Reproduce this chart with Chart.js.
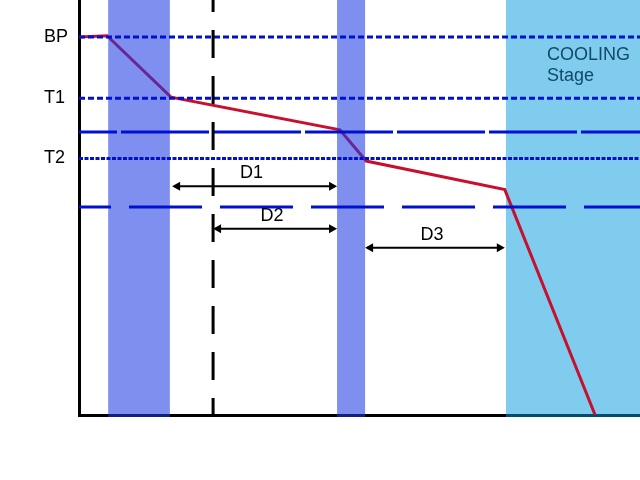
<!DOCTYPE html>
<html>
<head>
<meta charset="utf-8">
<script src="https://cdn.jsdelivr.net/npm/chart.js@4/dist/chart.umd.min.js"></script>
<style>
  html, body { margin: 0; padding: 0; background: #fff; }
  #wrap { width: 640px; height: 480px; }
</style>
</head>
<body>
<div id="wrap"><canvas id="mycanvas" width="640" height="480"></canvas></div>
<script>
// temperature curve (time in % of the axis, temperature in % of the axis)
var curveTime = [0, 5, 16.4, 46.5, 51.2, 75.9, 92];
var curveTemp = [91.1, 91.4, 76.6, 68.7, 61.2, 54.3, 0];

// named temperature levels (dotted lines + tick labels)
var levelNames = ['BP', 'T1', 'T2'];
var levelValues = [91.1, 76.3, 61.8];

// long dashed limits
var limitValues = [68.2, 50.1];

// shaded stages
var bandStarts = [5.2, 46.0, 76.1];
var bandEnds = [16.2, 51.0, 100];
var stageText = ['COOLING', 'Stage'];

// vertical marker
var markerTime = 23.9;

// durations
var spanNames = ['D1', 'D2', 'D3'];
var spanStarts = [16.6, 23.9, 51.0];
var spanEnds = [46.0, 46.0, 75.9];
var spanLevels = [55.1, 44.9, 40.3];

Chart.defaults.font.family = 'Arial, "Liberation Sans", sans-serif';

function hLine(ctx, area, py, dash, offset, color, width) {
  ctx.save();
  ctx.strokeStyle = color;
  ctx.lineWidth = width;
  ctx.setLineDash(dash);
  ctx.lineDashOffset = offset;
  ctx.beginPath();
  ctx.moveTo(area.left, py);
  ctx.lineTo(area.right, py);
  ctx.stroke();
  ctx.restore();
}

function arrow(ctx, x1, x2, py) {
  var head = 8, half = 4.5;
  ctx.save();
  ctx.strokeStyle = '#000';
  ctx.fillStyle = '#000';
  ctx.lineWidth = 2;
  ctx.beginPath();
  ctx.moveTo(x1 + 2, py);
  ctx.lineTo(x2 - 2, py);
  ctx.stroke();
  ctx.beginPath();
  ctx.moveTo(x1, py);
  ctx.lineTo(x1 + head, py - half);
  ctx.lineTo(x1 + head, py + half);
  ctx.closePath();
  ctx.fill();
  ctx.beginPath();
  ctx.moveTo(x2, py);
  ctx.lineTo(x2 - head, py - half);
  ctx.lineTo(x2 - head, py + half);
  ctx.closePath();
  ctx.fill();
  ctx.restore();
}

var diagramPlugin = {
  id: 'diagram',
  beforeDatasetsDraw: function(chart) {
    var x = chart.scales.x, ctx = chart.ctx, area = chart.chartArea;
    // cooling stage sits under the curve
    var last = bandStarts.length - 1;
    var x1 = x.getPixelForValue(bandStarts[last]);
    var x2 = x.getPixelForValue(bandEnds[last]);
    ctx.save();
    ctx.fillStyle = 'rgba(1, 153, 221, 0.5)';
    ctx.fillRect(x1, 0, x2 - x1, area.bottom + 2);
    ctx.restore();
  },
  afterDatasetsDraw: function(chart) {
    var x = chart.scales.x, y = chart.scales.y, ctx = chart.ctx, area = chart.chartArea;
    var i;

    // the other stages cover the curve
    ctx.save();
    ctx.fillStyle = 'rgba(30, 58, 226, 0.57)';
    for (i = 0; i < bandStarts.length - 1; i++) {
      var bx1 = x.getPixelForValue(bandStarts[i]);
      var bx2 = x.getPixelForValue(bandEnds[i]);
      ctx.fillRect(bx1, area.top, bx2 - bx1, area.bottom - area.top + 2);
    }
    ctx.restore();

    // level lines
    hLine(ctx, area, y.getPixelForValue(levelValues[0]), [6, 3], 0, '#0010cc', 3);
    hLine(ctx, area, y.getPixelForValue(levelValues[1]), [6, 3], 0, '#0010cc', 3);
    hLine(ctx, area, y.getPixelForValue(levelValues[2]), [4, 1.5], 0, '#0010cc', 3);
    hLine(ctx, area, y.getPixelForValue(limitValues[0]), [88, 4], 50, '#0010d0', 3);
    hLine(ctx, area, y.getPixelForValue(limitValues[1]), [73, 18], 41, '#0010d0', 3);

    // vertical marker
    var mx = x.getPixelForValue(markerTime);
    ctx.save();
    ctx.strokeStyle = '#000';
    ctx.lineWidth = 3;
    ctx.setLineDash([28, 18]);
    ctx.lineDashOffset = 16;
    ctx.beginPath();
    ctx.moveTo(mx, area.top);
    ctx.lineTo(mx, area.bottom);
    ctx.stroke();
    ctx.restore();

    // durations
    ctx.save();
    ctx.font = '18px Arial, "Liberation Sans", sans-serif';
    ctx.fillStyle = '#000';
    ctx.textAlign = 'center';
    ctx.textBaseline = 'middle';
    for (i = 0; i < spanNames.length; i++) {
      var sx1 = x.getPixelForValue(spanStarts[i]);
      var sx2 = x.getPixelForValue(spanEnds[i]);
      var sy = y.getPixelForValue(spanLevels[i]);
      arrow(ctx, sx1, sx2, sy);
      ctx.fillText(spanNames[i], (sx1 + sx2) / 2 - 3, sy - 13);
    }
    ctx.restore();

    // stage caption
    var cx = x.getPixelForValue(bandStarts[bandStarts.length - 1]);
    ctx.save();
    ctx.font = '18px Arial, "Liberation Sans", sans-serif';
    ctx.fillStyle = '#114a6c';
    ctx.textAlign = 'left';
    ctx.textBaseline = 'middle';
    ctx.fillText(stageText[0], cx + 41, 55);
    ctx.fillText(stageText[1], cx + 41, 76);
    ctx.restore();
  }
};

var points = [];
for (var k = 0; k < curveTime.length; k++) {
  points.push({ x: curveTime[k], y: curveTemp[k] });
}

var ctx = document.getElementById('mycanvas');

var chart = new Chart(ctx, {
  type: 'scatter',
  data: {
    datasets: [
      {
        label: 'Temperature',
        data: points,
        showLine: true,
        borderColor: '#c8102e',
        borderWidth: 3,
        pointRadius: 0,
        tension: 0
      }
    ]
  },
  options: {
    responsive: false,
    animation: false,
    layout: { padding: { left: 44, right: 0, top: 0, bottom: 65 } },
    plugins: {
      legend: { display: false },
      tooltip: { enabled: false }
    },
    scales: {
      x: {
        type: 'linear',
        min: 0,
        max: 100,
        ticks: { display: false },
        grid: { display: false, drawTicks: false },
        border: { display: true, color: '#000', width: 3 }
      },
      y: {
        type: 'linear',
        min: 0,
        max: 100,
        afterBuildTicks: function(axis) {
          axis.ticks = levelValues.map(function(v) { return { value: v }; });
        },
        afterFit: function(scale) {
          scale.width = 35;
          scale.paddingTop = 0;
          scale.paddingBottom = 0;
        },
        ticks: {
          autoSkip: false,
          crossAlign: 'far',
          color: '#000',
          font: { size: 18 },
          callback: function(value, index) { return levelNames[index]; }
        },
        grid: { display: false, drawTicks: false },
        border: { display: true, color: '#000', width: 3 }
      }
    }
  },
  plugins: [diagramPlugin]
});
</script>
</body>
</html>
